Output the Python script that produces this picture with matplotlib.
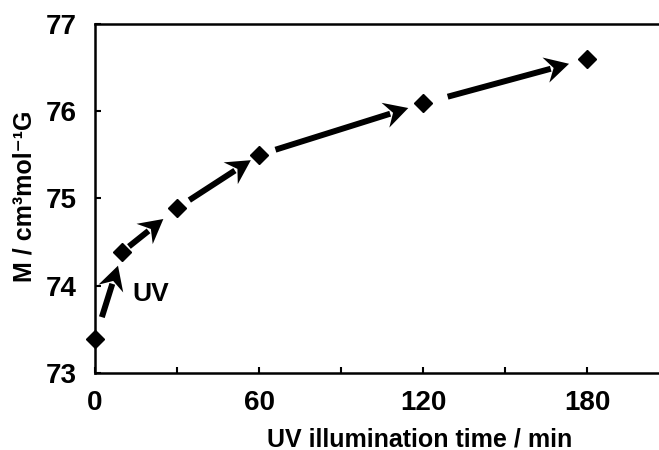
import numpy as np
import matplotlib
matplotlib.use('Agg')
import matplotlib.pyplot as plt
from matplotlib.patches import Polygon
from matplotlib.ticker import MultipleLocator

plt.rcParams['font.family'] = ['Liberation Sans', 'DejaVu Sans']
plt.rcParams['font.weight'] = 'bold'

# Magnetisation vs. UV illumination time
time_min = [0, 10, 30, 60, 120, 180]
moment = [73.39, 74.39, 74.89, 75.50, 76.09, 76.60]

# fraction of each segment where the arrow starts / ends
arrow_start = [0.25, 0.12, 0.15, 0.10, 0.15]
arrow_end = [0.84, 0.75, 0.90, 0.91, 0.89]

fig = plt.figure(figsize=(6.59, 4.5), dpi=100)
ax = fig.add_axes([0.1442, 0.1711, 0.8558, 0.7756])
ax.set_xlim(0, 206.3)
ax.set_ylim(73, 77)

ax.plot(time_min, moment, linestyle='none', marker='D', markersize=9.5,
        color='black', clip_on=False, zorder=5)

# stealth arrow head in pixels, tip at origin pointing along +x
head_len, head_half, notch = 24.0, 13.0, 16.0
head = np.array([[0, 0], [-head_len, head_half], [-notch, 0],
                 [-head_len, -head_half]])

x = np.array(time_min, dtype=float)
y = np.array(moment)
to_data = ax.transData.inverted()
for i in range(len(x) - 1):
    x0 = x[i] + arrow_start[i] * (x[i + 1] - x[i])
    y0 = y[i] + arrow_start[i] * (y[i + 1] - y[i])
    x1 = x[i] + arrow_end[i] * (x[i + 1] - x[i])
    y1 = y[i] + arrow_end[i] * (y[i + 1] - y[i])
    p0 = ax.transData.transform((x0, y0))
    p1 = ax.transData.transform((x1, y1))
    u = (p1 - p0) / np.hypot(*(p1 - p0))
    rot = np.array([[u[0], -u[1]], [u[1], u[0]]])
    verts = to_data.transform(head @ rot.T + p1)
    ax.add_patch(Polygon(verts, closed=True, facecolor='black',
                         edgecolor='none', clip_on=False, zorder=4))
    # shaft ends inside the notch of the head
    xb, yb = to_data.transform(p1 - (notch + 3) * u)
    ax.plot([x0, xb], [y0, yb], color='black', lw=4.3,
            solid_capstyle='butt', zorder=4)

ax.text(13.5, 73.9, 'UV', fontsize=19, fontweight='bold', ha='left', va='center')

ax.xaxis.set_major_locator(MultipleLocator(60))
ax.xaxis.set_minor_locator(MultipleLocator(30))
ax.yaxis.set_major_locator(MultipleLocator(1))

ax.tick_params(axis='both', which='both', direction='in', width=1.5, length=4)
ax.tick_params(axis='x', which='major', pad=12)
ax.tick_params(axis='y', which='major', pad=13)
ax.tick_params(axis='y', which='minor', left=False)
for lab in ax.get_xticklabels() + ax.get_yticklabels():
    lab.set_fontfamily(['Liberation Sans Narrow', 'Liberation Sans'])
    lab.set_fontsize(20)
    lab.set_fontweight('bold')

for s in ['left', 'bottom', 'top']:
    ax.spines[s].set_linewidth(1.8)
ax.spines['right'].set_visible(False)

ax.set_xlabel('UV illumination time / min', fontsize=18, fontweight='bold')
ax.set_ylabel('M / cm³mol⁻¹G', fontsize=18, fontweight='bold')
ax.xaxis.set_label_coords(0.576, -0.155)
ax.yaxis.set_label_coords(-0.104, 0.507)

fig.savefig('out.png', dpi=100)
